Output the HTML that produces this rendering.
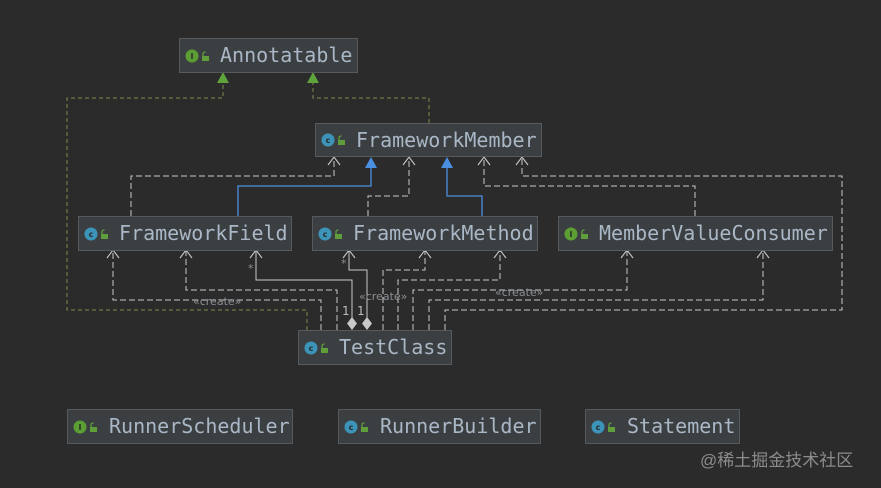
<!DOCTYPE html>
<html><head><meta charset="utf-8"><style>
html,body{margin:0;padding:0;background:#2b2b2b;}
svg{display:block}
.t{font-family:"DejaVu Sans Mono","Liberation Mono",monospace;font-size:20px;fill:#a9b7c6}
.s{font-family:"DejaVu Sans","Liberation Sans",sans-serif;font-size:11px;fill:#8a8f93}
</style></head><body>
<svg width="881" height="488" viewBox="0 0 881 488" xmlns="http://www.w3.org/2000/svg">
<defs>
<g id="lock"><rect x="0" y="3" width="7" height="5" fill="#5f9e3b"/><path d="M1 3 V1 Q1 -1 3.5 -1" stroke="#5f9e3b" stroke-width="1.3" fill="none"/></g>
</defs>
<rect width="881" height="488" fill="#2b2b2b"/>

<g stroke="#7a8f4e" stroke-width="1" stroke-dasharray="4,3" fill="none">
<path d="M307 330 V310 H67 V98 H223 V82"/>
<path d="M429 123 V98 H313 V82"/>
</g>
<polygon points="223,72 217,83 229,83" fill="#5fa33b"/>
<polygon points="313,72 307,83 319,83" fill="#5fa33b"/>

<g stroke="#4a8fe0" stroke-width="1.3" fill="none">
<path d="M238 216 V186 H371 V167"/>
<path d="M482 216 V196 H447 V167"/>
</g>
<polygon points="371,157 365,168 377,168" fill="#4a8fe0"/>
<polygon points="447,157 441,168 453,168" fill="#4a8fe0"/>

<g stroke="#c8c8c8" stroke-width="1" stroke-dasharray="6,3" fill="none">
<path d="M131 216 V176 H334 V157"/>
<path d="M368 216 V196 H409 V157"/>
<path d="M695 216 V186 H484 V157"/>
<path d="M445 330 V310 H842 V176 H522 V157"/>
<path d="M321 330 V300 H113 V250"/>
<path d="M337 330 V290 H186 V250"/>
<path d="M383 330 V270 H425 V250"/>
<path d="M398 330 V280 H500 V250"/>
<path d="M413 330 V290 H627 V250"/>
<path d="M429 330 V300 H763 V250"/>
</g>
<g stroke="#c8c8c8" stroke-width="1" fill="none">
<path d="M352 318 V280 H256 V250"/>
<path d="M367 318 V270 H349 V250"/>
</g>
<polygon points="352,317 357,323.5 352,330 347,323.5" fill="#c8c8c8"/>
<polygon points="367,317 372,323.5 367,330 362,323.5" fill="#c8c8c8"/>
<g stroke="#c8c8c8" stroke-width="1.1" fill="none">
<path d="M328 165 L334 157 L340 165"/>
<path d="M403 165 L409 157 L415 165"/>
<path d="M478 165 L484 157 L490 165"/>
<path d="M516 165 L522 157 L528 165"/>
<path d="M107 258 L113 250 L119 258"/>
<path d="M180 258 L186 250 L192 258"/>
<path d="M250 258 L256 250 L262 258"/>
<path d="M343 258 L349 250 L355 258"/>
<path d="M419 258 L425 250 L431 258"/>
<path d="M494 258 L500 250 L506 258"/>
<path d="M621 258 L627 250 L633 258"/>
<path d="M757 258 L763 250 L769 258"/>
</g>
<text class="s" x="193" y="305">«create»</text>
<text class="s" x="359" y="300">«create»</text>
<text class="s" x="495" y="296">«create»</text>
<text class="s" x="248" y="272">*</text>
<text class="s" x="341" y="267">*</text>
<text class="s" x="342" y="315" style="font-size:12px;fill:#bbb">1</text>
<text class="s" x="357" y="315" style="font-size:12px;fill:#bbb">1</text>

<g stroke="#575a5c" stroke-width="1" fill="#3c3f41">
<rect x="179.5" y="38.5" width="178" height="34"/>
<rect x="315.5" y="123.5" width="226" height="33"/>
<rect x="78.5" y="216.5" width="213" height="34"/>
<rect x="312.5" y="216.5" width="225" height="34"/>
<rect x="558.5" y="216.5" width="274" height="34"/>
<rect x="298.5" y="330.5" width="153" height="34"/>
<rect x="67.5" y="409.5" width="225" height="34"/>
<rect x="338.5" y="409.5" width="202" height="34"/>
<rect x="585.5" y="409.5" width="154" height="34"/>
</g>
<g font-family="DejaVu Sans,sans-serif" font-size="8" font-weight="bold" text-anchor="middle">
<circle cx="192" cy="56" r="6.5" fill="#5a9e34"/><text x="192" y="59" fill="#2b2b2b">I</text>
<circle cx="328" cy="140" r="6.5" fill="#3c94b8"/><text x="328" y="143" fill="#2b2b2b">c</text>
<circle cx="91" cy="234" r="6.5" fill="#3c94b8"/><text x="91" y="237" fill="#2b2b2b">c</text>
<circle cx="325" cy="234" r="6.5" fill="#3c94b8"/><text x="325" y="237" fill="#2b2b2b">c</text>
<circle cx="571" cy="234" r="6.5" fill="#5a9e34"/><text x="571" y="237" fill="#2b2b2b">I</text>
<circle cx="311" cy="348" r="6.5" fill="#3c94b8"/><text x="311" y="351" fill="#2b2b2b">c</text>
<circle cx="80" cy="427" r="6.5" fill="#5a9e34"/><text x="80" y="430" fill="#2b2b2b">I</text>
<circle cx="351" cy="427" r="6.5" fill="#3c94b8"/><text x="351" y="430" fill="#2b2b2b">c</text>
<circle cx="598" cy="427" r="6.5" fill="#3c94b8"/><text x="598" y="430" fill="#2b2b2b">c</text>
</g>
<use href="#lock" x="202" y="53"/>
<use href="#lock" x="338" y="137"/>
<use href="#lock" x="101" y="231"/>
<use href="#lock" x="335" y="231"/>
<use href="#lock" x="581" y="231"/>
<use href="#lock" x="321" y="345"/>
<use href="#lock" x="90" y="424"/>
<use href="#lock" x="361" y="424"/>
<use href="#lock" x="608" y="424"/>
<text class="t" x="220" y="62">Annotatable</text>
<text class="t" x="356" y="147">FrameworkMember</text>
<text class="t" x="119" y="240">FrameworkField</text>
<text class="t" x="353" y="240">FrameworkMethod</text>
<text class="t" x="599" y="240">MemberValueConsumer</text>
<text class="t" x="339" y="354">TestClass</text>
<text class="t" x="109" y="433">RunnerScheduler</text>
<text class="t" x="380" y="433">RunnerBuilder</text>
<text class="t" x="627" y="433">Statement</text>
<text x="700" y="466" font-family="Liberation Sans,Noto Sans CJK SC,sans-serif" font-size="17" fill="#8c8c8c">@稀土掘金技术社区</text>
</svg>
</body></html>
